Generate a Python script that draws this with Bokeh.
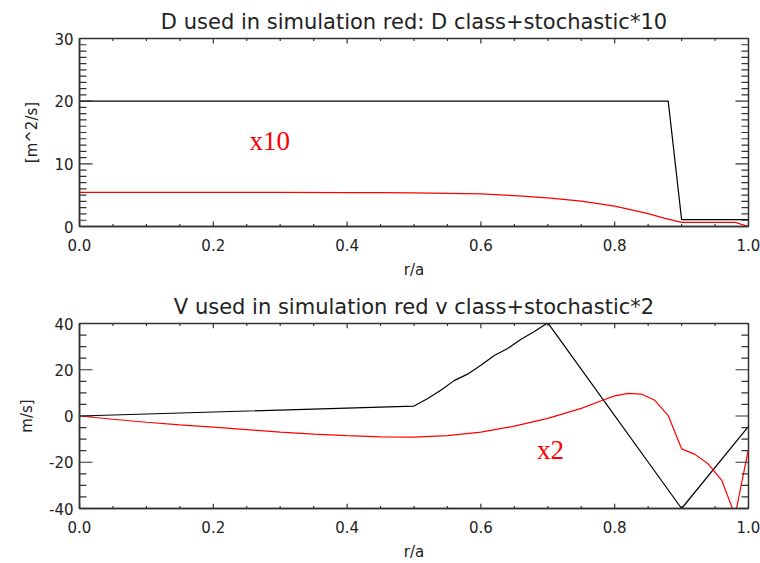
from bokeh.plotting import figure
from bokeh.layouts import column
from bokeh.models import (Range1d, LinearAxis, SingleIntervalTicker, PrintfTickFormatter, Label)
from bokeh.embed import file_html
from bokeh.resources import INLINE

# ---- data: D profiles ----
r_d_class = [0.0, 0.88, 0.90, 1.0]
d_class = [20.0, 20.0, 1.1, 1.1]
r_d_total = [0.0, 0.1, 0.2, 0.3, 0.4, 0.45, 0.5, 0.55, 0.6, 0.65, 0.7, 0.75, 0.8, 0.85, 0.875, 0.9, 0.98, 1.0]
d_total = [5.45, 5.45, 5.45, 5.44, 5.42, 5.4, 5.36, 5.3, 5.2, 4.93, 4.57, 4.04, 3.25, 2.05, 1.3, 0.65, 0.65, 0.0]

# ---- data: V profiles ----
r_v_class = [0.0, 0.5, 0.52, 0.54, 0.56, 0.58, 0.60, 0.62, 0.64, 0.66, 0.68, 0.70, 0.90, 1.0]
v_class = [0.0, 4.3, 7.5, 11.1, 15.3, 18.1, 21.9, 26.2, 29.2, 33.2, 36.5, 40.3, -40.0, -4.5]
r_v_total = [0.0, 0.05, 0.1, 0.15, 0.2, 0.25, 0.3, 0.35, 0.4, 0.45, 0.5, 0.55, 0.6, 0.65, 0.7,
             0.75, 0.78, 0.8, 0.82, 0.84, 0.86, 0.88, 0.9, 0.92, 0.94, 0.96, 0.98, 1.0]
v_total = [0.0, -1.4, -2.7, -3.8, -4.8, -5.9, -7.0, -7.8, -8.5, -9.0, -9.1, -8.5, -7.0, -4.4, -1.0,
           3.3, 6.6, 8.7, 9.8, 9.5, 6.8, 0.2, -14.2, -16.6, -20.8, -27.8, -43.0, -14.2]

titles = ["D used in simulation red: D class+stochastic*10",
          "V used in simulation red v class+stochastic*2"]
ylabels = ["[m^2/s]", "m/s]"]
xlabel = "r/a"
notes = ["x10", "x2"]

FONT = "DejaVu Sans"
AX = "#333333"
W = 760
BL, BR = 79, 12
FRAME_W = W - BL - BR
FRAME_H = 190
NAN = float("nan")


def style_axis(ax):
    ax.axis_line_color = AX
    ax.axis_line_width = 1.5
    ax.major_tick_out = 0
    ax.minor_tick_out = 0
    ax.major_tick_in = 0
    ax.minor_tick_in = 0
    ax.major_label_text_font = FONT
    ax.major_label_text_color = "#222222"
    ax.major_label_text_font_size = "15px"
    ax.axis_label_text_font = FONT
    ax.axis_label_text_font_size = "15px"
    ax.axis_label_text_font_style = "normal"
    ax.axis_label_text_color = "#222222"


def frange(a, b, step):
    n = int(round((b - a) / step))
    return [round(a + i * step, 6) for i in range(n + 1)]


def make_panel(title, ylab, yr, yint, yminor, top, bottom):
    p = figure(width=W, height=top + FRAME_H + bottom, output_backend="svg", toolbar_location=None,
               x_range=Range1d(0, 1), y_range=Range1d(*yr),
               min_border_left=BL, min_border_right=BR,
               min_border_top=top, min_border_bottom=bottom,
               x_axis_type=None, y_axis_type=None)
    p.grid.visible = False
    p.outline_line_color = AX
    p.outline_line_width = 1.5
    p.background_fill_color = "white"
    p.border_fill_color = "white"

    xb = LinearAxis(ticker=SingleIntervalTicker(interval=0.2, num_minor_ticks=4),
                    formatter=PrintfTickFormatter(format="%.1f"), axis_label=xlabel)
    style_axis(xb)
    xb.major_label_standoff = 12
    xb.axis_label_standoff = 7
    p.add_layout(xb, "below")

    yl = LinearAxis(ticker=SingleIntervalTicker(interval=yint, num_minor_ticks=yminor),
                    formatter=PrintfTickFormatter(format="%d"), axis_label=ylab)
    style_axis(yl)
    yl.major_label_standoff = 6
    yl.axis_label_standoff = 10
    p.add_layout(yl, "left")

    p.title.text = title
    p.title.align = "center"
    p.title.text_font = FONT
    p.title.text_font_size = "21px"
    p.title.text_font_style = "normal"
    p.title.text_color = "#222222"
    return p


def add_ticks(p, yr, yint, yminor):
    # inward tick marks on all four sides (IDL box style), lengths in pixels,
    # drawn as one broken polyline (NaN gaps)
    y0, y1 = float(yr[0]), float(yr[1])
    px_x = 1.0 / FRAME_W
    px_y = (y1 - y0) / FRAME_H
    x_major = frange(0.0, 1.0, 0.2)
    x_minor = frange(0.0, 1.0, 0.05)
    y_major = frange(y0, y1, float(yint))
    y_minor = frange(y0, y1, yint / yminor)
    tx, ty = [], []
    for xs, L in ((x_minor, 2.5), (x_major, 5)):
        for x in xs:
            tx += [x, x, NAN, x, x, NAN]
            ty += [y0, y0 + L * px_y, NAN, y1, y1 - L * px_y, NAN]
    for ys, L in ((y_minor, 7), (y_major, 13)):
        for y in ys:
            tx += [0.0, L * px_x, NAN, 1.0, 1.0 - L * px_x, NAN]
            ty += [y, y, NAN, y, y, NAN]
    p.line(tx, ty, line_color=AX, line_width=1.2)


p1 = make_panel(titles[0], ylabels[0], (0, 30), 10, 10, 38, 53)
p1.line(r_d_class, d_class, line_color="black", line_width=1.2)
p1.line(r_d_total, d_total, line_color="#ff0000", line_width=1.2)
add_ticks(p1, (0, 30), 10, 10)
p1.add_layout(Label(x=0.254, y=11.2, text=notes[0], text_color="#ff0000",
                    text_font="Liberation Serif", text_font_size="27px"))

p2 = make_panel(titles[1], ylabels[1], (-40, 40), 20, 4, 42, 50)
p2.line(r_v_class, v_class, line_color="black", line_width=1.2)
p2.line(r_v_total, v_total, line_color="#ff0000", line_width=1.2)
add_ticks(p2, (-40, 40), 20, 4)
p2.add_layout(Label(x=0.684, y=-21.4, text=notes[1], text_color="#ff0000",
                    text_font="Liberation Serif", text_font_size="27px"))

layout = column(p1, p2, spacing=0)
open("out.html", "w").write(file_html(layout, INLINE))
